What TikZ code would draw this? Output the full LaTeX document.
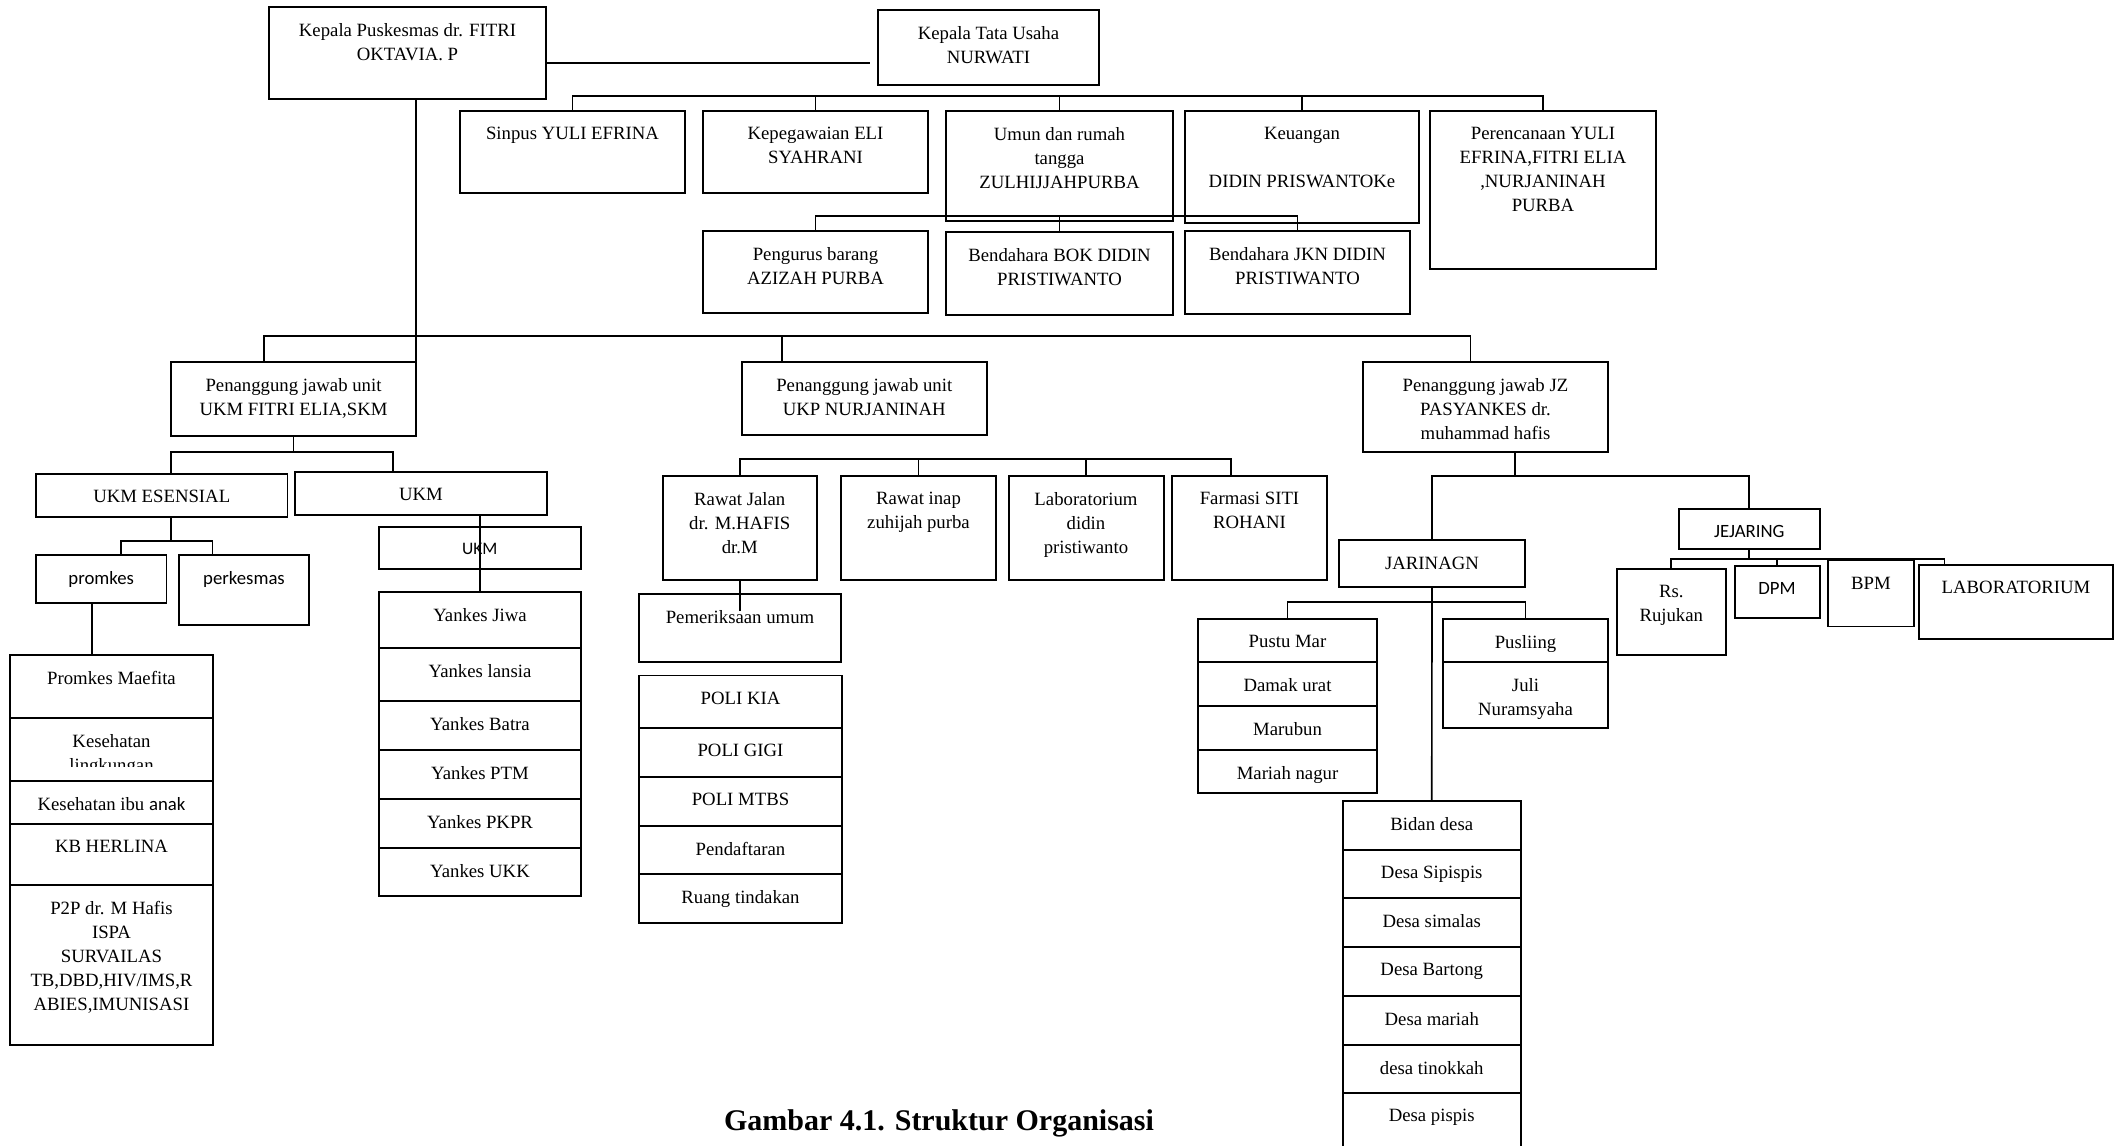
\documentclass[tikz,border=0pt]{standalone}
\usepackage{fontspec}
\setmainfont{Liberation Serif}
\setsansfont{Carlito}
\usetikzlibrary{positioning,fit,calc}

\begin{document}
\begin{tikzpicture}[x=0.015cm, y=-0.015cm,
    every node/.style={inner sep=0pt, outer sep=0pt},
    box/.style={draw, line width=.85pt},
    txt/.style={anchor=north, yshift=-7pt, align=center, font=\fontsize{8}{10.2}\selectfont},
    sans/.style={font=\sffamily\fontsize{8}{10.2}\selectfont},
    link/.style={line width=.7pt},
    kirirow/.style={box, minimum width=3.045cm},
    yankesrow/.style={box, minimum width=3.03cm},
    polirow/.style={box, minimum width=3.045cm},
    pusturow/.style={box, minimum width=2.685cm},
    desarow/.style={box, minimum width=2.6625cm}]
  \useasboundingbox (0,0) rectangle (2124,1146);

  % pimpinan dan tata usaha
  \node[box, fit={(269,7) (546,99)}, label={[txt]north:Kepala Puskesmas dr. FITRI\\OKTAVIA. P}] (kapus) {};
  \node[box, fit={(878,10) (1099,85)}, label={[txt]north:Kepala Tata Usaha\\NURWATI}] (katu) {};

  \node[box, fit={(460,111) (685,193)}, label={[txt]north:Sinpus YULI EFRINA}] (sinpus) {};
  \node[box, fit={(703,111) (928,193)}, label={[txt]north:Kepegawaian ELI\\SYAHRANI}] (kepeg) {};
  \node[box, fit={(946,111) (1173,221)}, label={[txt]north:Umun dan rumah\\tangga\\ZULHIJJAHPURBA}] (umum) {};
  \node[box, fit={(1185,111) (1419,223)}, label={[txt]north:Keuangan\\[10.2pt]DIDIN PRISWANTOKe}] (keu) {};
  \node[box, fit={(1430,111) (1656,269)}, label={[txt]north:Perencanaan YULI\\EFRINA,FITRI ELIA\\,NURJANINAH\\PURBA}] (renc) {};

  \node[box, fit={(703,231) (928,313)}, label={[txt]north:Pengurus barang\\AZIZAH PURBA}] (barang) {};
  \node[box, fit={(946,232) (1173,315)}, label={[txt]north:Bendahara BOK DIDIN\\PRISTIWANTO}] (bok) {};
  \node[box, fit={(1185,231) (1410,314)}, label={[txt]north:Bendahara JKN DIDIN\\PRISTIWANTO}] (jkn) {};

  % penanggung jawab
  \node[box, fit={(171,362) (416,436)}, label={[txt]north:Penanggung jawab unit\\UKM FITRI ELIA,SKM}] (ukm) {};
  \node[box, fit={(741.5,362.5) (987,435)}, label={[txt]north:Penanggung jawab unit\\UKP NURJANINAH}] (ukp) {};
  \node[box, fit={(1363,362) (1608,452)}, label={[txt]north:Penanggung jawab JZ\\PASYANKES dr.\\muhammad hafis}] (jz) {};

  % UKM
  \node[box, fit={(36,474) (287.5,517)}, label={[txt]north:UKM ESENSIAL}] (esensial) {};
  \node[box, fit={(295,472) (547,515)}, label={[txt]north:UKM}] (ukmdev) {};
  \node[box, fit={(36,555) (166.5,603)}, label={[txt, sans]north:promkes}] (promkes) {};
  \node[box, fit={(179,555) (309,625)}, label={[txt, sans]north:perkesmas}] (perkes) {};
  \node[box, fit={(378.5,527) (581,569)}, label={[txt, font=\sffamily\fontsize{7.5}{9}\selectfont]north:UKM}] (ukmsub) {};

  \node[box, fit={(10,655) (213,718)}, label={[txt]north:Promkes Maefita}] (maefita) {};
  \node[kirirow, below=0pt of maefita, minimum height=.945cm, label={[txt]north:Kesehatan}] (kesling) {};
  \begin{scope}
    \clip (10,700) rectangle (213,767);
    \node[txt] (lingk) at ($(kesling.north)+(0,24)$) {lingkungan};
  \end{scope}
  \node[kirirow, below=0pt of kesling, minimum height=.645cm, label={[txt]north:Kesehatan ibu {\sffamily anak}}] (kesibu) {};
  \node[kirirow, below=0pt of kesibu, minimum height=.915cm, label={[txt]north:KB HERLINA}] (kb) {};
  \node[kirirow, below=0pt of kb, minimum height=2.4cm, label={[txt]north:P2P dr. M Hafis\\ISPA\\SURVAILAS\\TB,DBD,HIV/IMS,R\\ABIES,IMUNISASI}] (ptp) {};

  \node[box, fit={(379,592) (581,648)}, label={[txt]north:Yankes Jiwa}] (jiwa) {};
  \node[yankesrow, below=0pt of jiwa, minimum height=.795cm, label={[txt]north:Yankes lansia}] (lansia) {};
  \node[yankesrow, below=0pt of lansia, minimum height=.735cm, label={[txt]north:Yankes Batra}] (batra) {};
  \node[yankesrow, below=0pt of batra, minimum height=.735cm, label={[txt]north:Yankes PTM}] (ptm) {};
  \node[yankesrow, below=0pt of ptm, minimum height=.735cm, label={[txt]north:Yankes PKPR}] (pkpr) {};
  \node[yankesrow, below=0pt of pkpr, minimum height=.72cm, label={[txt]north:Yankes UKK}] (ukk) {};

  % UKP
  \node[box, fit={(662.5,476) (817,580)}, label={[txt]north:Rawat Jalan\\dr. M.HAFIS\\dr.M}] (rajal) {};
  \node[box, fit={(841,476) (996,580)}, label={[txt]north:Rawat inap\\zuhijah purba}] (ranap) {};
  \node[box, fit={(1008.5,476) (1163.5,580)}, label={[txt]north:Laboratorium\\didin\\pristiwanto}] (lab) {};
  \node[box, fit={(1172,476) (1327,580)}, label={[txt]north:Farmasi SITI\\ROHANI}] (farmasi) {};
  \node[box, fit={(639,594) (841,662)}, label={[txt]north:Pemeriksaan umum}] (periksa) {};

  \node[box, fit={(639,675.5) (842,728)}, label={[txt]north:POLI KIA}] (polikia) {};
  \node[polirow, below=0pt of polikia, minimum height=.735cm, label={[txt]north:POLI GIGI}] (poligigi) {};
  \node[polirow, below=0pt of poligigi, minimum height=.735cm, label={[txt]north:POLI MTBS}] (mtbs) {};
  \node[polirow, below=0pt of mtbs, minimum height=.72cm, label={[txt]north:Pendaftaran}] (daftar) {};
  \node[polirow, below=0pt of daftar, minimum height=.735cm, label={[txt]north:Ruang tindakan}] (tindakan) {};

  % jaringan dan jejaring
  \node[box, fit={(1339,540.5) (1525,587.5)}, label={[txt]north:JARINAGN}] (jaringan) {};
  \node[box, fit={(1679,509) (1819.5,549)}, label={[txt, sans]north:JEJARING}] (jejaring) {};
  \node[box, fit={(1616.5,569) (1726,655)}, label={[txt]north:Rs.\\Rujukan}] (rs) {};
  \node[box, fit={(1734.5,566.5) (1819.5,618.5)}, label={[txt, sans]north:DPM}] (dpm) {};
  \node[box, fit={(1828,560.5) (1914,626.5)}, label={[txt]north:BPM}] (bpm) {};
  \node[box, fit={(1919,565) (2113,639)}, label={[txt]north:LABORATORIUM}] (labjr) {};

  \node[box, fit={(1198,619) (1377,662)}, label={[txt]north:Pustu Mar}] (pustu) {};
  \node[pusturow, below=0pt of pustu, minimum height=.66cm, label={[txt]north:Damak urat}] (damak) {};
  \node[pusturow, below=0pt of damak, minimum height=.66cm, label={[txt]north:Marubun}] (marubun) {};
  \node[pusturow, below=0pt of marubun, minimum height=.645cm, label={[txt]north:Mariah nagur}] (mariah) {};

  \node[box, fit={(1443,619) (1608,662)}, label={[txt]north:Pusliing}] (pusling) {};
  \node[box, below=0pt of pusling, minimum width=2.475cm, minimum height=.99cm, label={[txt]north:Juli\\Nuramsyaha}] (juli) {};

  \node[box, fit={(1343,801) (1520.5,850)}, label={[txt]north:Bidan desa}] (bidan) {};
  \node[desarow, below=0pt of bidan, minimum height=.72cm, label={[txt]north:Desa Sipispis}] (sipispis) {};
  \node[desarow, below=0pt of sipispis, minimum height=.735cm, label={[txt]north:Desa simalas}] (simalas) {};
  \node[desarow, below=0pt of simalas, minimum height=.735cm, label={[txt]north:Desa Bartong}] (bartong) {};
  \node[desarow, below=0pt of bartong, minimum height=.735cm, label={[txt]north:Desa mariah}] (dmariah) {};
  \node[desarow, below=0pt of dmariah, minimum height=.72cm, label={[txt]north:desa tinokkah}] (tinokkah) {};
  \node[desarow, below=0pt of tinokkah, minimum height=1.1cm, label={[txt]north:Desa pispis}] (pispis) {};

  \node[font=\bfseries\fontsize{12.8}{15}\selectfont, anchor=base] (judul) at (939,1130) {Gambar 4.1. Struktur Organisasi};

  % garis
  \draw[link] ($(kapus.east)+(0,10)$) -- ($(kapus.east -| katu.west)+(-8,10)$);
  \draw[link] (sinpus.north) |- ($(renc.north)+(0,-15)$) -- (renc.north);
  \draw[link] (kepeg.north) -- ++(0,-15);
  \draw[link] (umum.north) -- ++(0,-15);
  \draw[link] (keu.north) -- ++(0,-15);
  \draw[link] (barang.north) |- ($(jkn.north)+(0,-15)$) -- (jkn.north);
  \draw[link] (bok.north) -- ++(0,-16);

  \draw[link] (kapus.south -| ukm.north east) -- (ukm.north east);
  \draw[link] ($(ukm.north west)+(93,0)$) |- ($(jz.north west)+(107.5,-26)$) -- ++(0,26);
  \draw[link] ($(ukp.north west)+(40.5,0)$) -- ++(0,-26);

  \draw[link] (ukm.south) -- ++(0,16);
  \draw[link] ($(esensial.north west)+(135,0)$) |- ($(ukmdev.north west)+(98,-20)$) -- ++(0,20);
  \draw[link] ($(esensial.south west)+(135,0)$) -- ++(0,24);
  \draw[link] ($(promkes.north west)+(85,0)$) |- ($(perkes.north west)+(33.5,-14)$) -- ++(0,14);
  \draw[link] ($(promkes.south west)+(56,0)$) -- ++(0,52);
  \draw[link] (ukmdev.south -| ukmsub.north) -- (jiwa.north -| ukmsub.north);

  \draw[link] (rajal.north) |- ($(farmasi.north west)+(59,-17)$) -- ++(0,17);
  \draw[link] (ranap.north) -- ++(0,-17);
  \draw[link] (lab.north) -- ++(0,-17);
  \draw[link] (rajal.south) -- ++(0,31);

  \draw[link] ($(jz.south west)+(152,0)$) -- ++(0,24);
  \draw[link] (jaringan.north) |- ($(jejaring.north)+(0,-33)$) -- (jejaring.north);
  \draw[link] (jejaring.south) -- ++(0,10);
  \draw[link] (rs.north) |- ($(labjr.north west)+(25.5,-6)$) -- ++(0,6);
  \draw[link] (dpm.north) -- ++(0,-8);
  \draw[link] (jaringan.south) -- (bidan.north);
  \draw[link] (pustu.north) |- ($(pusling.north)+(0,-17)$) -- (pusling.north);
\end{tikzpicture}
\end{document}
